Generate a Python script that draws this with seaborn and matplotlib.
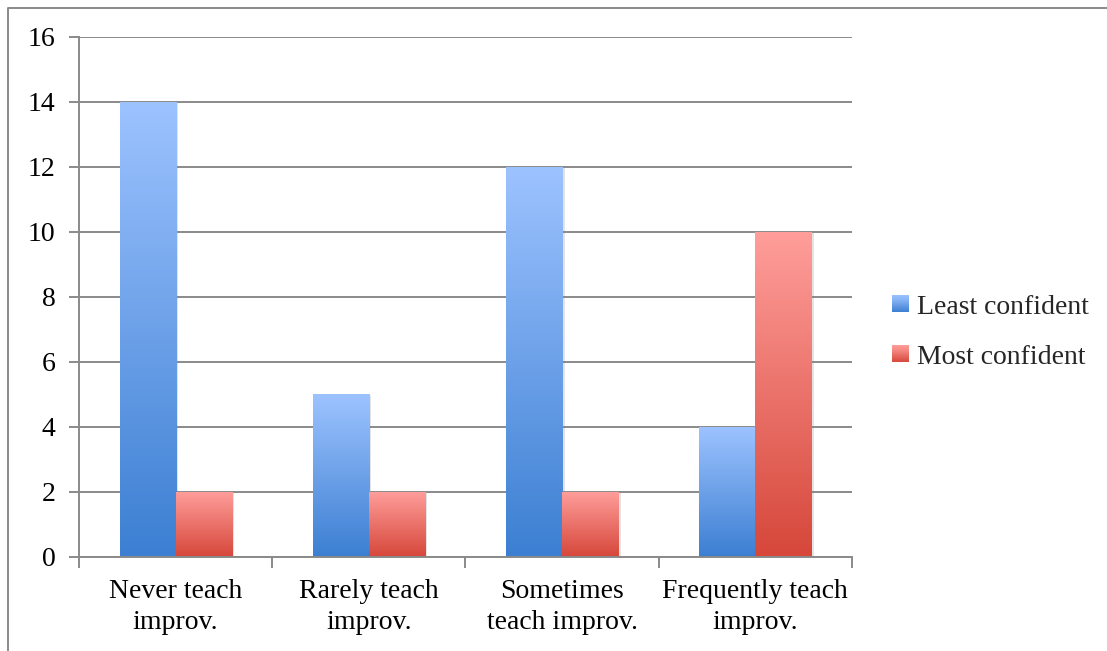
import numpy as np
import pandas as pd
import matplotlib
matplotlib.use("Agg")
import matplotlib.pyplot as plt
import seaborn as sns
import matplotlib.patheffects as pe
from matplotlib.colors import LinearSegmentedColormap
from matplotlib.legend_handler import HandlerBase
from matplotlib.patches import Rectangle
from matplotlib.lines import Line2D

# Survey counts per teaching-frequency group
categories = ["Never teach\nimprov.", "Rarely teach\nimprov.",
              "Sometimes\nteach improv.", "Frequently teach\nimprov."]
least_confident = [14, 5, 12, 4]
most_confident = [2, 2, 2, 10]
series_names = ["Least confident", "Most confident"]

# Vertical gradient colours (top, bottom) for each series
blue_top, blue_bottom = "#9DC3FF", "#3C7FD2"
red_top, red_bottom = "#FF9E9B", "#D6473A"
gray = "#8a8a8a"

df = pd.DataFrame({
    "category": categories * 2,
    "series": [series_names[0]] * len(categories) + [series_names[1]] * len(categories),
    "count": least_confident + most_confident,
})

sns.set_theme(style="white")
plt.rcParams["font.family"] = ["Liberation Serif", "DejaVu Serif"]
FS = 20

fig = plt.figure(figsize=(11.07, 6.51), dpi=100)
ax = fig.add_axes([0.0714, 0.1444, 0.6982, 0.7988])

sns.barplot(data=df, x="category", y="count", hue="series",
            order=categories, hue_order=series_names,
            palette=[blue_bottom, red_bottom], saturation=1,
            width=0.58, gap=0, legend=False, ax=ax)

# Replace flat fills with top-to-bottom gradients, plus a soft drop shadow
grad = np.linspace(0, 1, 256).reshape(-1, 1)
for cont, (top, bottom) in zip(ax.containers,
                               [(blue_top, blue_bottom), (red_top, red_bottom)]):
    cmap = LinearSegmentedColormap.from_list("g", [bottom, top])
    for bar in cont:
        x0, y0 = bar.get_x(), bar.get_y()
        w, h = bar.get_width(), bar.get_height()
        bar.set_facecolor("white")
        bar.set_edgecolor("none")
        bar.set_zorder(2)
        bar.set_path_effects([
            pe.SimplePatchShadow(offset=(1.8, -0.8), shadow_rgbFace="0.5", alpha=0.22),
            pe.Normal(),
        ])
        im = ax.imshow(grad, extent=[x0, x0 + w, y0, y0 + h], origin="lower",
                       cmap=cmap, aspect="auto", interpolation="bilinear", zorder=2.1)
        im.set_clip_path(bar)

ax.set_xlim(-0.5, len(categories) - 0.5)
ax.set_ylim(0, 16)
ax.set_yticks(np.arange(0, 17, 2))
ax.set_xlabel("")
ax.set_ylabel("")

ax.set_axisbelow(True)
ax.yaxis.grid(True, color=gray, linewidth=1.4)
ax.xaxis.grid(False)
for side in ("top", "right"):
    ax.spines[side].set_visible(False)
for side in ("left", "bottom"):
    ax.spines[side].set_color(gray)
    ax.spines[side].set_linewidth(1.4)

ax.tick_params(axis="y", left=True, length=7, width=1.4, color=gray,
               pad=10, labelsize=FS, labelcolor="black")
ax.set_xticks(np.arange(len(categories)))
ax.set_xticklabels(categories)
ax.set_xticks(np.arange(-0.5, len(categories), 1.0), minor=True)
ax.tick_params(axis="x", which="major", bottom=False, length=0, pad=16,
               labelsize=FS, labelcolor="black")
ax.tick_params(axis="x", which="minor", bottom=True, length=8, width=1.4, color=gray)
for lab in ax.get_xticklabels():
    lab.set_linespacing(1.3)


class GradientSquare(HandlerBase):
    def __init__(self, top, bottom, steps=16):
        super().__init__()
        self.cmap = LinearSegmentedColormap.from_list("g", [bottom, top])
        self.steps = steps

    def create_artists(self, legend, orig_handle, xdescent, ydescent,
                       width, height, fontsize, trans):
        side = min(width, height)
        x = -xdescent + (width - side) / 2
        y = -ydescent + (height - side) / 2
        arts = []
        for i in range(self.steps):
            frac = (i + 0.5) / self.steps
            arts.append(Rectangle((x, y + side * i / self.steps), side,
                                  side / self.steps + 0.3,
                                  facecolor=self.cmap(frac), edgecolor="none",
                                  transform=trans))
        return arts


handles = [Rectangle((0, 0), 1, 1), Rectangle((0, 0), 1, 1)]
fig.legend(handles, series_names,
           handler_map={handles[0]: GradientSquare(blue_top, blue_bottom),
                        handles[1]: GradientSquare(red_top, red_bottom)},
           loc="center left", bbox_to_anchor=(892 / 1107, 1 - 332 / 651),
           frameon=False, fontsize=FS, handlelength=0.6, handleheight=0.6,
           handletextpad=0.3, labelspacing=0.9, borderpad=0, borderaxespad=0)

# Outer chart frame (left and top edges)
fx = 8 / 1107
fy = 1 - 8 / 651
fig.add_artist(Line2D([fx, fx, 1.0], [0.0, fy, fy], transform=fig.transFigure,
                      color=gray, linewidth=1.4))

fig.savefig("out.png", dpi=100)
